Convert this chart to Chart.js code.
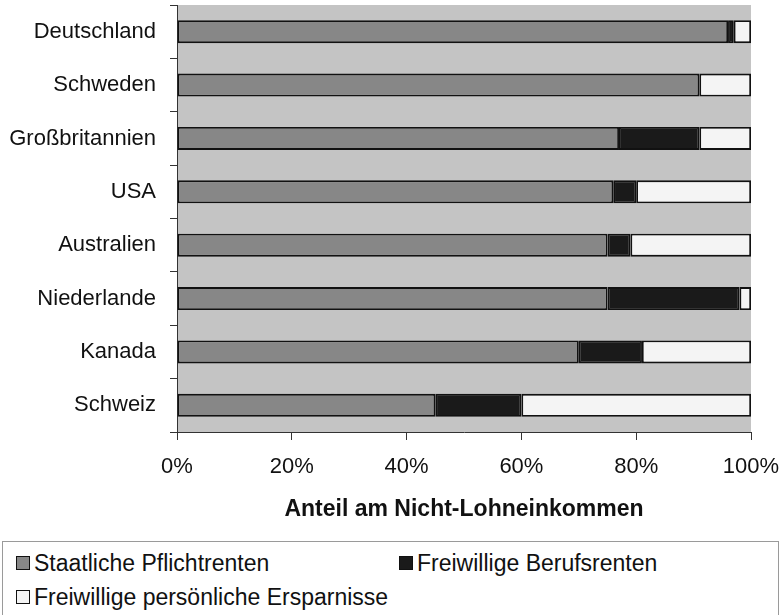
<!DOCTYPE html>
<html>
<head>
<meta charset="utf-8">
<script src="https://cdn.jsdelivr.net/npm/chart.js@4/dist/chart.umd.min.js"></script>
<style>
  html, body { margin: 0; padding: 0; background: #ffffff; }
  body { width: 784px; height: 615px; position: relative; overflow: hidden; font-family: "Liberation Sans", Arial, sans-serif; color: #111; }
  #wrap { position: absolute; left: 0; top: 0; width: 784px; height: 540px; }
  #legend { position: absolute; left: 2px; top: 541px; width: 777px; height: 90px; border: 1px solid #9a9a9a; box-sizing: border-box; }
  .item { position: absolute; font-size: 23px; line-height: 26px; white-space: nowrap; }
  .sw { position: absolute; width: 14px; height: 14px; border: 1px solid #111; box-sizing: border-box; top: 6px; left: 0; }
  .lab { position: absolute; left: 18px; top: 0; }
</style>
</head>
<body>
<div id="wrap"><canvas id="c"></canvas></div>
<div id="legend"></div>
<script>
const categories = ["Deutschland", "Schweden", "Großbritannien", "USA", "Australien", "Niederlande", "Kanada", "Schweiz"];
const seriesNames = ["Staatliche Pflichtrenten", "Freiwillige Berufsrenten", "Freiwillige persönliche Ersparnisse"];
const staatlich = [96, 91, 77, 76, 75, 75, 70, 45];
const beruf = [1, 0, 14, 4, 4, 23, 11, 15];
const privat = [3, 9, 9, 20, 21, 2, 19, 40];
const xTicks = [0, 20, 40, 60, 80, 100];
const axisTitle = "Anteil am Nicht-Lohneinkommen";

const colors = ["#878787", "#1a1a1a", "#f4f4f4"];
const FONT = "'Liberation Sans', Arial, sans-serif";

const bgPlugin = {
  id: 'plotBg',
  beforeDraw(chart) {
    const {ctx, chartArea: a} = chart;
    ctx.save();
    ctx.fillStyle = '#c4c4c4';
    ctx.fillRect(a.left, a.top, a.right - a.left, a.bottom - a.top);
    ctx.restore();
  }
};

const seriesData = [staatlich, beruf, privat];
new Chart(document.getElementById('c'), {
  type: 'bar',
  data: {
    labels: categories,
    datasets: seriesNames.map((n, i) => ({
      label: n,
      data: seriesData[i],
      backgroundColor: colors[i],
      borderColor: '#111',
      borderWidth: 1.8,
      borderSkipped: false,
      barPercentage: 0.43,
      categoryPercentage: 1.0
    }))
  },
  options: {
    indexAxis: 'y',
    responsive: true,
    maintainAspectRatio: false,
    animation: false,
    layout: { padding: { top: 5, right: 33, left: 0, bottom: 0 } },
    plugins: { legend: { display: false }, tooltip: { enabled: false } },
    scales: {
      x: {
        stacked: true,
        min: 0, max: 100,
        afterBuildTicks(s) { s.ticks = xTicks.map(v => ({ value: v })); },
        afterFit(s) { s.height = 108; s.paddingLeft = 0; s.paddingRight = 0; },
        ticks: { callback: v => v + '%', color: '#111', font: { family: FONT, size: 22 }, padding: 14, maxRotation: 0 },
        grid: { drawOnChartArea: false, drawTicks: true, tickLength: 8, color: '#333', lineWidth: 1 },
        border: { display: true, color: '#333', width: 1 },
        title: { display: true, text: axisTitle, color: '#111', font: { family: FONT, size: 23, weight: 'bold' }, padding: { top: 0, bottom: 17 } }
      },
      y: {
        stacked: true,
        afterFit(s) { s.width = 177; s.paddingTop = 0; s.paddingBottom = 0; },
        ticks: { color: '#111', font: { family: FONT, size: 22 }, padding: 14 },
        grid: { drawOnChartArea: false, drawTicks: true, tickLength: 7, offset: true, color: '#333' },
        border: { display: true, color: '#333', width: 1 }
      }
    }
  },
  plugins: [bgPlugin]
});

const legend = document.getElementById('legend');
const pos = [[13, 8], [396, 8], [13, 42]];
seriesNames.forEach((n, i) => {
  const d = document.createElement('div');
  d.className = 'item';
  d.style.left = pos[i][0] + 'px';
  d.style.top = pos[i][1] + 'px';
  d.innerHTML = '<span class="sw" style="background:' + colors[i] + '"></span><span class="lab"></span>';
  d.querySelector('.lab').textContent = n;
  legend.appendChild(d);
});
</script>
</body>
</html>
